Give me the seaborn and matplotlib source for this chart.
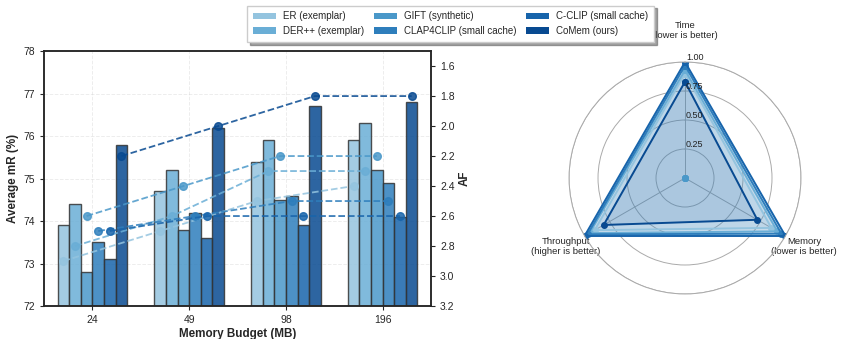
import numpy as np
import pandas as pd
import matplotlib
matplotlib.use("Agg")
import matplotlib.pyplot as plt
from matplotlib.patches import Patch
import seaborn as sns

# ---------------- data ----------------
budgets = ["24", "49", "98", "196"]
methods = ["ER (exemplar)", "DER++ (exemplar)", "GIFT (synthetic)",
           "CLAP4CLIP (small cache)", "C-CLIP (small cache)", "CoMem (ours)"]

mr_er = [73.9, 74.7, 75.4, 75.9]
mr_der = [74.4, 75.2, 75.9, 76.3]
mr_gift = [72.8, 73.8, 74.5, 75.2]
mr_clap = [73.5, 74.2, 74.6, 74.9]
mr_cclip = [73.1, 73.6, 73.9, 74.1]
mr_comem = [75.8, 76.2, 76.7, 76.8]

af_er = [2.9, 2.7, 2.5, 2.4]
af_der = [2.8, 2.6, 2.3, 2.3]
af_gift = [2.6, 2.4, 2.2, 2.2]
af_clap = [2.7, 2.6, 2.5, 2.5]
af_cclip = [2.7, 2.6, 2.6, 2.6]
af_comem = [2.2, 2.0, 1.8, 1.8]

radar_axes = ["Time\n(lower is better)", "Memory\n(lower is better)",
              "Throughput\n(higher is better)"]
radar_er = [0.90, 0.86, 0.90]
radar_der = [0.93, 0.92, 0.95]
radar_gift = [0.0, 0.0, 0.0]
radar_clap = [0.97, 0.96, 0.97]
radar_cclip = [1.0, 1.0, 1.0]
radar_comem = [0.83, 0.72, 0.81]
radar_ticks = [0.25, 0.50, 0.75, 1.00]

mr_all = [mr_er, mr_der, mr_gift, mr_clap, mr_cclip, mr_comem]
af_all = [af_er, af_der, af_gift, af_clap, af_cclip, af_comem]
radar_all = [radar_er, radar_der, radar_gift, radar_clap, radar_cclip, radar_comem]

# ---------------- style ----------------
sns.set_style("ticks")
plt.rcParams['font.family'] = ['Liberation Sans', 'DejaVu Sans']
colors = [plt.cm.Blues(v) for v in np.linspace(0.4, 0.9, 6)]

fig = plt.figure(figsize=(8.42, 3.39), dpi=100)

# ---------------- bar chart ----------------
ax = fig.add_axes([0.0523, 0.0973, 0.4596, 0.752])
rows = []
for m, vals in zip(methods, mr_all):
    for b, v in zip(budgets, vals):
        rows.append({"budget": b, "method": m, "mR": v})
df = pd.DataFrame(rows)

n = len(methods)
total_w = 0.72
sns.barplot(data=df, x="budget", y="mR", hue="method", hue_order=methods,
            order=budgets, palette=colors, saturation=1, width=total_w,
            alpha=0.85, edgecolor="#333333", linewidth=1.0, ax=ax,
            legend=False, errorbar=None)
ax.set_ylim(72, 78)
ax.set_xlim(-0.5, 3.5)
ax.set_yticks(range(72, 79))
ax.set_xlabel("Memory Budget (MB)", fontsize=8.4, fontweight="bold", labelpad=2)
ax.set_ylabel("Average mR (%)", fontsize=8.4, fontweight="bold", labelpad=3)
ax.tick_params(labelsize=7.5, length=3)
ax.grid(True, linestyle="--", alpha=0.35, linewidth=0.7)
ax.set_axisbelow(True)
for s in ax.spines.values():
    s.set_linewidth(1.1)

ax2 = ax.twinx()
bw = total_w / n
xpos = np.arange(len(budgets))
for i, (m, vals) in enumerate(zip(methods, af_all)):
    off = (i - (n - 1) / 2) * bw
    ax2.plot(xpos + off, vals, linestyle="--", marker="o", markersize=5.5,
             linewidth=1.3, color=colors[i], alpha=0.85)
ax2.set_ylim(3.2, 1.5)
ax2.set_yticks(np.arange(1.6, 3.21, 0.2))
ax2.set_yticklabels([f"{t:.1f}" for t in np.arange(1.6, 3.21, 0.2)])
ax2.set_ylabel("AF", fontsize=8.4, fontweight="bold", labelpad=3)
ax2.tick_params(labelsize=7.5, length=3)
for s in ax2.spines.values():
    s.set_linewidth(1.1)

# ---------------- radar ----------------
ax3 = fig.add_axes([0.6758, 0.1327, 0.2755, 0.6844], polar=True)
ax3.set_theta_offset(np.pi / 2)
ax3.set_theta_direction(-1)
angles = np.linspace(0, 2 * np.pi, len(radar_axes), endpoint=False)
closed = np.concatenate([angles, angles[:1]])
for i, vals in enumerate(radar_all):
    v = np.array(vals + vals[:1])
    ax3.plot(closed, v, color=colors[i], linewidth=1.4, marker="o", markersize=4)
    ax3.fill(closed, v, color=colors[i], alpha=0.1)
ax3.set_ylim(0, 1.0)
ax3.set_yticks(radar_ticks)
ax3.set_yticklabels([])
for r in radar_ticks:
    ax3.text(0.008, r, f"{r:.2f}", fontsize=6.5, ha="left", va="bottom",
             color="#222222")
ax3.set_xticks(angles)
ax3.set_xticklabels(radar_axes, fontsize=6.8)
ax3.tick_params(axis="x", pad=5)
labs = ax3.get_xticklabels()
labs[0].set_va("bottom")
for l in labs:
    l.set_multialignment("center")
ax3.grid(True, color="#aaaaaa", linewidth=0.7)
ax3.spines["polar"].set_color("#aaaaaa")
ax3.spines["polar"].set_linewidth(0.7)

# ---------------- legend ----------------
handles = [Patch(facecolor=c, edgecolor="none") for c in colors]
fig.legend(handles, methods, loc="upper center", bbox_to_anchor=(0.535, 0.998),
           ncol=3, fontsize=7, frameon=True, fancybox=False, shadow=True,
           edgecolor="#cccccc", columnspacing=1.0, handlelength=2.4,
           handletextpad=0.7, borderpad=0.6, labelspacing=0.5)

fig.savefig("out.png", dpi=100)
